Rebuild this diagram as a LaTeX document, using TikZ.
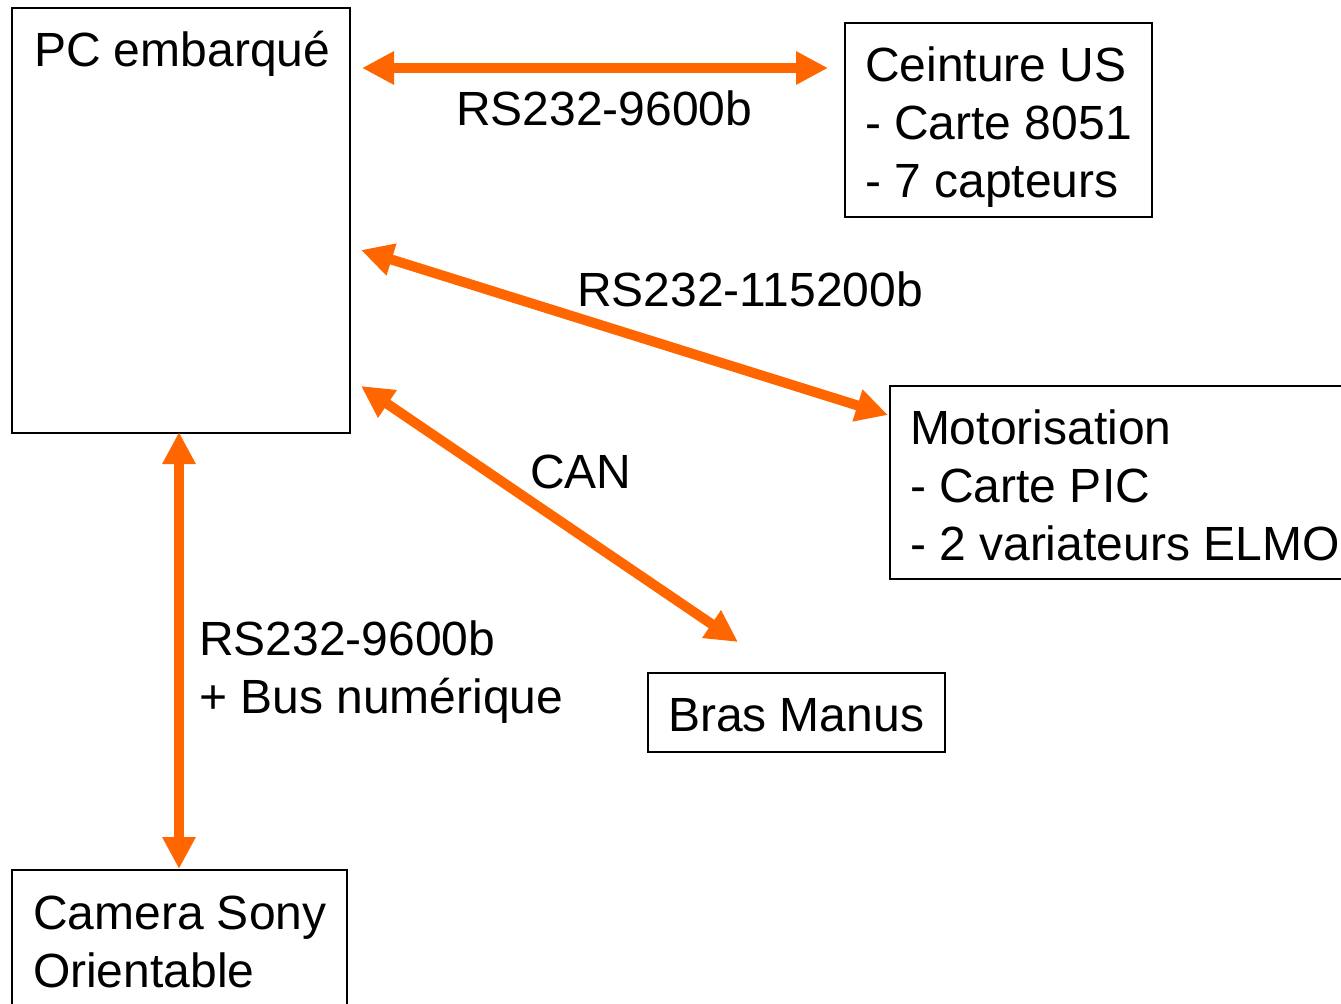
\documentclass[tikz,border=0pt]{standalone}
\usepackage{fontspec}
\setmainfont{Liberation Sans}
\usetikzlibrary{arrows.meta,calc}
\definecolor{linkorange}{RGB}{255,102,0}
\begin{document}
\begin{tikzpicture}[x=0.75pt,y=-0.75pt,
  box/.style={draw=black,line width=1.5pt,anchor=north west,inner sep=0pt,outer sep=0pt},
  txt/.style={anchor=base west,inner sep=0pt,outer sep=0pt,font=\fontsize{36pt}{43.5pt}\selectfont},
  link/.style={draw=linkorange,line width=7.5pt,
    {Triangle[length=24pt,width=23.5pt]}-{Triangle[length=24pt,width=23.5pt]}}]
\useasboundingbox (0,0) rectangle (1341,1003);
\clip (0,0) rectangle (1341,1003);

% units
\node[box,minimum width=253.5pt,minimum height=318.75pt] (pc) at (12,8) {};
\node[box,minimum width=230.25pt,minimum height=145.5pt] (us) at (845,23) {};
\node[box,minimum width=352.5pt,minimum height=144.75pt] (motor) at (890,386) {};
\node[box,minimum width=222.75pt,minimum height=59.25pt] (bras) at (648,673) {};
\node[box,minimum width=251.25pt,minimum height=112.5pt] (cam) at (12,870) {};

% unit texts
\node[txt] (pcT) at (34,66) {PC embarqué};
\node[txt] (usT1) at (865,81) {Ceinture US};
\node[txt] (usT2) at (865,139) {- Carte 8051};
\node[txt] (usT3) at (865,197) {- 7 capteurs};
\node[txt] (moT1) at (910,444) {Motorisation};
\node[txt] (moT2) at (910,502) {- Carte PIC};
\node[txt] (moT3) at (910,560) {- 2 variateurs ELMO};
\node[txt] (brT) at (668,731) {Bras Manus};
\node[txt] (caT1) at (33,929) {Camera Sony};
\node[txt] (caT2) at (33,987) {Orientable};

% link end points
\coordinate (pcUS) at ($(pc.north east)+(12,60)$);
\coordinate (usPC) at ($(us.north west)+(-17,45)$);
\coordinate (pcMO) at ($(pc.north east)+(11,242)$);
\coordinate (moPC) at ($(motor.north west)+(-2,29)$);
\coordinate (pcBR) at ($(pc.north east)+(11,378)$);
\coordinate (brPC) at ($(bras.north west)+(90,-31)$);
\coordinate (pcCA) at ($(pc.south west)+(167,-1)$);
\coordinate (caPC) at ($(cam.north west)+(167,-1)$);

% links
\draw[link] (pcUS) -- (usPC);
\draw[link] (pcMO) -- (moPC);
\draw[link] (pcBR) -- (brPC);
\draw[link] (pcCA) -- (caPC);

% link labels
\node[txt] (l1) at (456,125) {RS232-9600b};
\node[txt] (l2) at (577,306) {RS232-115200b};
\node[txt] (l3) at (530,488) {CAN};
\node[txt] (l4a) at (199,655) {RS232-9600b};
\node[txt] (l4b) at (199,713) {+ Bus numérique};
\end{tikzpicture}
\end{document}
